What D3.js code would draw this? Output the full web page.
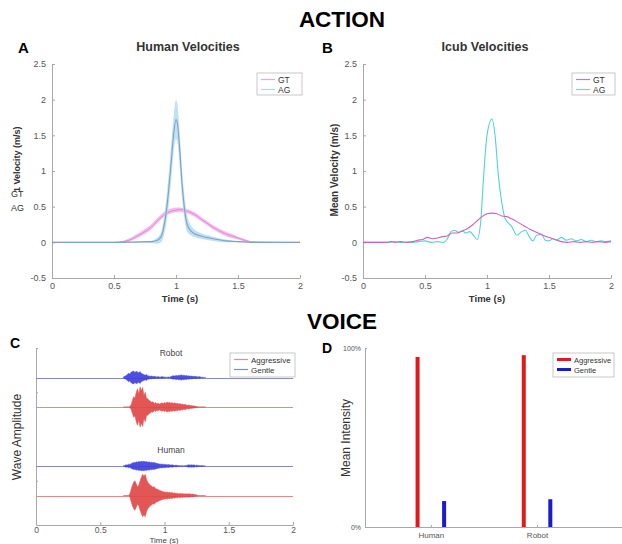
<!DOCTYPE html>
<html>
<head>
<meta charset="utf-8">
<script src="https://cdn.jsdelivr.net/npm/d3@7"></script>
<style>
body { margin: 0; background: #fff; }
text { font-family: "Liberation Sans", Arial, sans-serif; }
</style>
</head>
<body>
<div id="chart"></div>
<script>
// ---- panel A: human velocities (mean with spread band)
const humanGtTime = [0, 0.5, 0.55, 0.6, 0.65, 0.7, 0.75, 0.8, 0.85, 0.9, 0.95, 1.0, 1.03, 1.1, 1.15, 1.2, 1.25, 1.3, 1.35, 1.4, 1.45, 1.5, 1.55, 1.6, 1.7, 2.0]
const humanGtMean = [0, 0, 0.005, 0.02, 0.05, 0.1, 0.15, 0.21, 0.3, 0.38, 0.43, 0.45, 0.46, 0.43, 0.39, 0.33, 0.27, 0.21, 0.16, 0.12, 0.09, 0.06, 0.03, 0.01, 0, 0]
const humanGtLow  = [0, 0, 0, 0, 0.03, 0.07, 0.12, 0.18, 0.27, 0.35, 0.4, 0.42, 0.43, 0.4, 0.36, 0.3, 0.24, 0.18, 0.13, 0.09, 0.06, 0.04, 0.01, 0, 0, 0]
const humanGtHigh = [0, 0, 0.01, 0.04, 0.08, 0.13, 0.19, 0.25, 0.34, 0.42, 0.47, 0.49, 0.49, 0.46, 0.42, 0.36, 0.3, 0.24, 0.19, 0.15, 0.12, 0.08, 0.05, 0.02, 0.01, 0]

const humanAgTime = [0, 0.5, 0.8, 0.85, 0.88, 0.9, 0.93, 0.96, 0.98, 1.0, 1.01, 1.03, 1.05, 1.07, 1.09, 1.12, 1.15, 1.2, 1.3, 1.4, 1.5, 1.6, 2.0]
const humanAgMean = [0, 0, 0.01, 0.03, 0.08, 0.2, 0.55, 1.1, 1.5, 1.72, 1.68, 1.3, 0.8, 0.45, 0.25, 0.16, 0.12, 0.09, 0.05, 0.02, 0.01, 0, 0]
const humanAgLow  = [0, 0, -0.01, -0.02, 0, 0.08, 0.35, 0.85, 1.25, 1.45, 1.42, 1.05, 0.6, 0.3, 0.15, 0.1, 0.07, 0.05, 0.02, 0, 0, 0, 0]
const humanAgHigh = [0, 0, 0.02, 0.07, 0.15, 0.32, 0.75, 1.35, 1.75, 2.0, 1.95, 1.55, 1.0, 0.62, 0.38, 0.24, 0.18, 0.13, 0.08, 0.04, 0.02, 0.01, 0]

// ---- panel B: icub velocities
const icubGtTime = [0, 0.2, 0.22, 0.26, 0.3, 0.35, 0.4, 0.44, 0.48, 0.52, 0.56, 0.6, 0.64, 0.68, 0.72, 0.76, 0.8, 0.84, 0.88, 0.92, 0.96, 1.0, 1.04, 1.08, 1.12, 1.16, 1.2, 1.25, 1.3, 1.35, 1.4, 1.45, 1.5, 1.55, 1.6, 1.65, 1.7, 1.75, 1.8, 1.85, 1.9, 1.95, 2.0]
const icubGtMean = [0, 0, 0.01, 0, 0.01, 0, 0.01, 0.03, 0.04, 0.07, 0.05, 0.06, 0.08, 0.09, 0.13, 0.13, 0.16, 0.19, 0.24, 0.3, 0.36, 0.4, 0.41, 0.4, 0.37, 0.36, 0.33, 0.28, 0.23, 0.18, 0.14, 0.1, 0.07, 0.04, 0.01, 0, 0.01, 0, 0.01, 0, 0.01, 0, 0.01]

const icubAgTime = [0, 0.2, 0.25, 0.3, 0.4, 0.45, 0.5, 0.55, 0.6, 0.65, 0.68, 0.71, 0.74, 0.77, 0.8, 0.83, 0.86, 0.89, 0.92, 0.95, 0.97, 1.0, 1.04, 1.065, 1.09, 1.12, 1.145, 1.2, 1.24, 1.28, 1.31, 1.34, 1.37, 1.4, 1.44, 1.47, 1.5, 1.53, 1.56, 1.6, 1.64, 1.68, 1.72, 1.76, 1.8, 1.84, 1.88, 1.92, 1.96, 2.0]
const icubAgMean = [0, 0, 0.01, 0, 0, 0.01, 0.02, 0, 0.01, 0, 0.05, 0.15, 0.17, 0.14, 0.16, 0.13, 0.15, 0.1, 0.04, 0.3, 0.85, 1.5, 1.73, 1.5, 0.97, 0.55, 0.34, 0.22, 0.1, 0.15, 0.17, 0.08, 0.02, 0.1, 0.11, 0.03, 0.02, 0.05, 0.03, 0.07, 0.03, 0.05, 0.02, 0.04, 0.01, 0.03, 0.01, 0.02, 0.01, 0.02]

const timeTicks = [0, 0.5, 1, 1.5, 2]
const velocityTicks = [-0.5, 0, 0.5, 1, 1.5, 2, 2.5]

// ---- panel C: wave envelopes, one value every 0.01 s from 0.68 s
const waveTime = d3.range(0, 65).map(i => +(0.68 + i * 0.01).toFixed(2))
const robotGentle = [0.02, 0.04, 0.06, 0.1, 0.14, 0.12, 0.18, 0.2, 0.22, 0.17, 0.21, 0.19, 0.16, 0.2, 0.14, 0.12, 0.1, 0.08, 0.1, 0.06, 0.05, 0.04, 0.05, 0.03, 0.04, 0.03, 0.02, 0.03, 0.02, 0.02, 0.03, 0.02, 0.02, 0.01, 0.01, 0.02, 0.01, 0.03, 0.05, 0.06, 0.05, 0.07, 0.06, 0.08, 0.07, 0.09, 0.07, 0.08, 0.06, 0.07, 0.05, 0.06, 0.04, 0.05, 0.04, 0.03, 0.04, 0.03, 0.02, 0.03, 0.02, 0.01, 0.01, 0, 0]
const robotAggressive = [0, 0, 0, 0, 0, 0.02, 0.08, 0.22, 0.35, 0.3, 0.5, 0.62, 0.45, 0.68, 0.55, 0.66, 0.4, 0.5, 0.3, 0.28, 0.22, 0.2, 0.16, 0.18, 0.12, 0.15, 0.11, 0.13, 0.1, 0.12, 0.14, 0.12, 0.15, 0.13, 0.17, 0.14, 0.16, 0.13, 0.15, 0.12, 0.14, 0.12, 0.13, 0.1, 0.12, 0.09, 0.1, 0.08, 0.09, 0.07, 0.06, 0.07, 0.05, 0.05, 0.04, 0.03, 0.03, 0.02, 0.01, 0, 0, 0, 0, 0, 0]
const humanGentle = [0.01, 0.02, 0.04, 0.03, 0.06, 0.05, 0.08, 0.1, 0.12, 0.11, 0.14, 0.13, 0.15, 0.14, 0.16, 0.15, 0.16, 0.14, 0.15, 0.13, 0.14, 0.12, 0.13, 0.11, 0.12, 0.1, 0.09, 0.08, 0.07, 0.06, 0.07, 0.05, 0.06, 0.05, 0.04, 0.05, 0.04, 0.03, 0.04, 0.03, 0.02, 0.03, 0.02, 0.02, 0.01, 0.01, 0.01, 0, 0.01, 0.02, 0.03, 0.04, 0.03, 0.04, 0.03, 0.04, 0.02, 0.03, 0.02, 0.02, 0.01, 0.02, 0.01, 0, 0]
const humanAggressive = [0, 0, 0, 0, 0, 0.05, 0.2, 0.35, 0.45, 0.5, 0.4, 0.3, 0.35, 0.5, 0.62, 0.72, 0.65, 0.72, 0.55, 0.45, 0.4, 0.35, 0.32, 0.28, 0.3, 0.24, 0.22, 0.2, 0.18, 0.16, 0.14, 0.13, 0.12, 0.11, 0.12, 0.1, 0.11, 0.09, 0.1, 0.08, 0.09, 0.07, 0.08, 0.06, 0.07, 0.06, 0.07, 0.05, 0.06, 0.05, 0.06, 0.05, 0.06, 0.04, 0.05, 0.03, 0.03, 0.02, 0.01, 0, 0, 0, 0, 0, 0]

// ---- panel D: mean intensity
const speakers = ["Human", "Robot"]
const aggressiveIntensity = [0.95, 0.96]
const gentleIntensity = [0.145, 0.155]

const svg = d3.select("#chart").append("svg").attr("width", 622).attr("height", 544)

function styleAxis(g, size) {
    g.select(".domain").attr("stroke", "#a8a8a8")
    g.selectAll(".tick line").attr("stroke", "#a8a8a8")
    g.selectAll(".tick text").attr("fill", "#555").style("font-size", (size || 9) + "px")
}

function label(txt, x, y, size, weight, anchor, color) {
    return svg.append("text").attr("x", x).attr("y", y)
        .attr("text-anchor", anchor || "middle")
        .style("font-size", size + "px").style("font-weight", weight || "normal")
        .attr("fill", color || "#000").text(txt)
}

function legendBox(x0, y0, w, h, items, lineW, size) {
    svg.append("rect").attr("x", x0).attr("y", y0).attr("width", w).attr("height", h)
        .attr("fill", "#fff").attr("stroke", "#bbb").attr("stroke-width", 0.8)
    items.forEach((it, i) => {
        const yy = y0 + 6.5 + i * 10
        svg.append("line").attr("x1", x0 + 4).attr("x2", x0 + 18).attr("y1", yy).attr("y2", yy)
            .attr("stroke", it.color).attr("stroke-width", lineW)
        label(it.name, x0 + 21, yy + 3, size, "normal", "start", "#333")
    })
}

function velocityAxes(left, right) {
    const x = d3.scaleLinear().domain([0, 2]).range([left, right])
    const y = d3.scaleLinear().domain([-0.5, 2.5]).range([278, 64])
    svg.append("g").attr("transform", "translate(0,278)")
        .call(d3.axisBottom(x).tickValues(timeTicks).tickFormat(d => String(d)).tickSizeInner(-3).tickSizeOuter(0).tickPadding(5))
        .call(styleAxis)
    svg.append("g").attr("transform", `translate(${left},0)`)
        .call(d3.axisLeft(y).tickValues(velocityTicks).tickFormat(d => String(d)).tickSizeInner(-3).tickSizeOuter(0).tickPadding(6))
        .call(styleAxis)
    return { x, y }
}

// ---------- A
{
    const { x, y } = velocityAxes(52, 300)
    const band = (t, lo, hi) => d3.area().curve(d3.curveMonotoneX)
        .x((d, i) => x(t[i])).y0((d, i) => y(lo[i])).y1((d, i) => y(hi[i]))(t)
    const line = (t, v) => d3.line().curve(d3.curveMonotoneX)
        .x((d, i) => x(t[i])).y((d, i) => y(v[i]))(t)

    svg.append("path").attr("d", band(humanGtTime, humanGtLow, humanGtHigh)).attr("fill", "#f5b3ec").attr("opacity", 0.9)
    svg.append("path").attr("d", line(humanGtTime, humanGtMean)).attr("fill", "none").attr("stroke", "#e58ad6").attr("stroke-width", 1)
    svg.append("path").attr("d", band(humanAgTime, humanAgLow, humanAgHigh)).attr("fill", "#b5dcf2").attr("opacity", 0.85)
    svg.append("path").attr("d", line(humanAgTime, humanAgMean)).attr("fill", "none").attr("stroke", "#7f9fc6").attr("stroke-width", 1.1)

    label("Human Velocities", 188, 51, 12.5, "bold", "middle", "#333")
    label("A", 18, 53, 15, "bold", "start")
    label("Time (s)", 180, 302, 9.5, "bold", "middle", "#333")
    svg.append("text").attr("transform", "translate(20,192) rotate(-90)")
        .style("font-size", "9px").style("font-weight", "bold").attr("fill", "#333").text("1 Velocity (m/s)")
    label("GT", 11, 197, 9, "normal", "start", "#333")
    label("AG", 11, 211, 9, "normal", "start", "#333")
    legendBox(257, 73, 45, 22, [{ name: "GT", color: "#eaa6e2" }, { name: "AG", color: "#a9d9ec" }], 1.2, 8.5)
}

// ---------- B
{
    const { x, y } = velocityAxes(363, 611)
    const line = (t, v) => d3.line().curve(d3.curveMonotoneX)
        .x((d, i) => x(t[i])).y((d, i) => y(v[i]))(t)
    svg.append("path").attr("d", line(icubAgTime, icubAgMean)).attr("fill", "none").attr("stroke", "#52d4d6").attr("stroke-width", 1.1)
    svg.append("path").attr("d", line(icubGtTime, icubGtMean)).attr("fill", "none").attr("stroke", "#c862c8").attr("stroke-width", 1.1)

    label("Icub Velocities", 485, 51, 12.5, "bold", "middle", "#333")
    label("B", 322, 53, 15, "bold", "start")
    label("Time (s)", 487, 302, 9.5, "bold", "middle", "#333")
    svg.append("text").attr("transform", "translate(338,170) rotate(-90)").attr("text-anchor", "middle")
        .style("font-size", "10px").style("font-weight", "bold").attr("fill", "#333").text("Mean Velocity (m/s)")
    legendBox(572, 73, 43, 22, [{ name: "GT", color: "#cc70cc" }, { name: "AG", color: "#6ad8da" }], 1.2, 8.5)
}

label("ACTION", 342, 27, 22.5, "bold")
label("VOICE", 342, 329, 22.5, "bold")

// ---------- C
{
    const x = d3.scaleLinear().domain([0, 2]).range([36, 293])
    const y = d3.scaleLinear().domain([0, 6]).range([525, 348])
    svg.append("g").attr("transform", "translate(0,525)")
        .call(d3.axisBottom(x).tickValues(timeTicks).tickFormat(d => String(d)).tickSizeInner(-3).tickSizeOuter(0).tickPadding(2))
        .call(g => styleAxis(g, 8.5))
    svg.append("g").attr("transform", "translate(36,0)")
        .call(d3.axisLeft(y).tickValues([1.5, 4.5, 6]).tickFormat("").tickSizeInner(-2).tickSizeOuter(0))
        .call(styleAxis)

    const traces = [
        { env: robotGentle, base: 5, fill: "#3d3ddc", baseColor: "#8290c2" },
        { env: robotAggressive, base: 4, fill: "#e04444", baseColor: "#e08c8c" },
        { env: humanGentle, base: 2, fill: "#3d3ddc", baseColor: "#8290c2" },
        { env: humanAggressive, base: 1, fill: "#e04444", baseColor: "#e08c8c" }
    ]
    traces.forEach(tr => {
        const yb = Math.round(y(tr.base)) + 0.5
        svg.append("line").attr("x1", x(0)).attr("x2", x(2)).attr("y1", yb).attr("y2", yb)
            .attr("stroke", tr.baseColor).attr("stroke-width", 1)
        const area = d3.area()
            .x((d, i) => x(waveTime[i]))
            .y0(d => y(tr.base - d))
            .y1(d => y(tr.base + d))
        svg.append("path").attr("d", area(tr.env)).attr("fill", tr.fill).attr("opacity", 0.9)
            .attr("stroke", tr.fill).attr("stroke-width", 0.5)
    })

    label("Robot", 171, 356, 8.5, "normal", "middle", "#444")
    label("Human", 171, 453, 8.5, "normal", "middle", "#444")
    label("C", 10, 348, 14, "bold", "start")
    label("Time (s)", 164, 543, 8, "normal", "middle", "#444")
    svg.append("text").attr("transform", "translate(21,437) rotate(-90)").attr("text-anchor", "middle")
        .style("font-size", "12px").attr("fill", "#333").text("Wave Amplitude")
    legendBox(230, 353, 65, 24, [{ name: "Aggressive", color: "#e09090" }, { name: "Gentle", color: "#8090c4" }], 1.2, 8)
}

// ---------- D
{
    const x = d3.scaleLinear().domain([-0.62, 1.8]).range([365, 622])
    const y = d3.scaleLinear().domain([0, 1]).range([527, 348])
    svg.append("g").attr("transform", "translate(0,527)")
        .call(d3.axisBottom(x).tickValues([0, 1]).tickFormat((d, i) => speakers[i]).tickSizeInner(-2).tickSizeOuter(0).tickPadding(5))
        .call(g => styleAxis(g, 8))
    svg.append("g").attr("transform", "translate(365,0)")
        .call(d3.axisLeft(y).tickValues([0, 1]).tickFormat(d => d === 0 ? "0%" : "100%").tickSizeInner(-2).tickSizeOuter(0).tickPadding(4))
        .call(g => styleAxis(g, 7))

    const off = 0.125
    svg.selectAll("rect.agg").data(aggressiveIntensity).enter().append("rect")
        .attr("x", (d, i) => x(i - off) - 2).attr("y", d => y(d))
        .attr("width", 4).attr("height", d => y(0) - y(d)).attr("fill", "#e01a1a")
    svg.selectAll("rect.gen").data(gentleIntensity).enter().append("rect")
        .attr("x", (d, i) => x(i + off) - 2).attr("y", d => y(d))
        .attr("width", 4).attr("height", d => y(0) - y(d)).attr("fill", "#1a1ad0")

    label("D", 322, 353, 14, "bold", "start")
    svg.append("text").attr("transform", "translate(350,438) rotate(-90)").attr("text-anchor", "middle")
        .style("font-size", "12px").attr("fill", "#333").text("Mean Intensity")
    legendBox(553, 353, 61, 24, [{ name: "Aggressive", color: "#e01a1a" }, { name: "Gentle", color: "#1a1ad0" }], 3, 7.5)
}
</script>
</body>
</html>
